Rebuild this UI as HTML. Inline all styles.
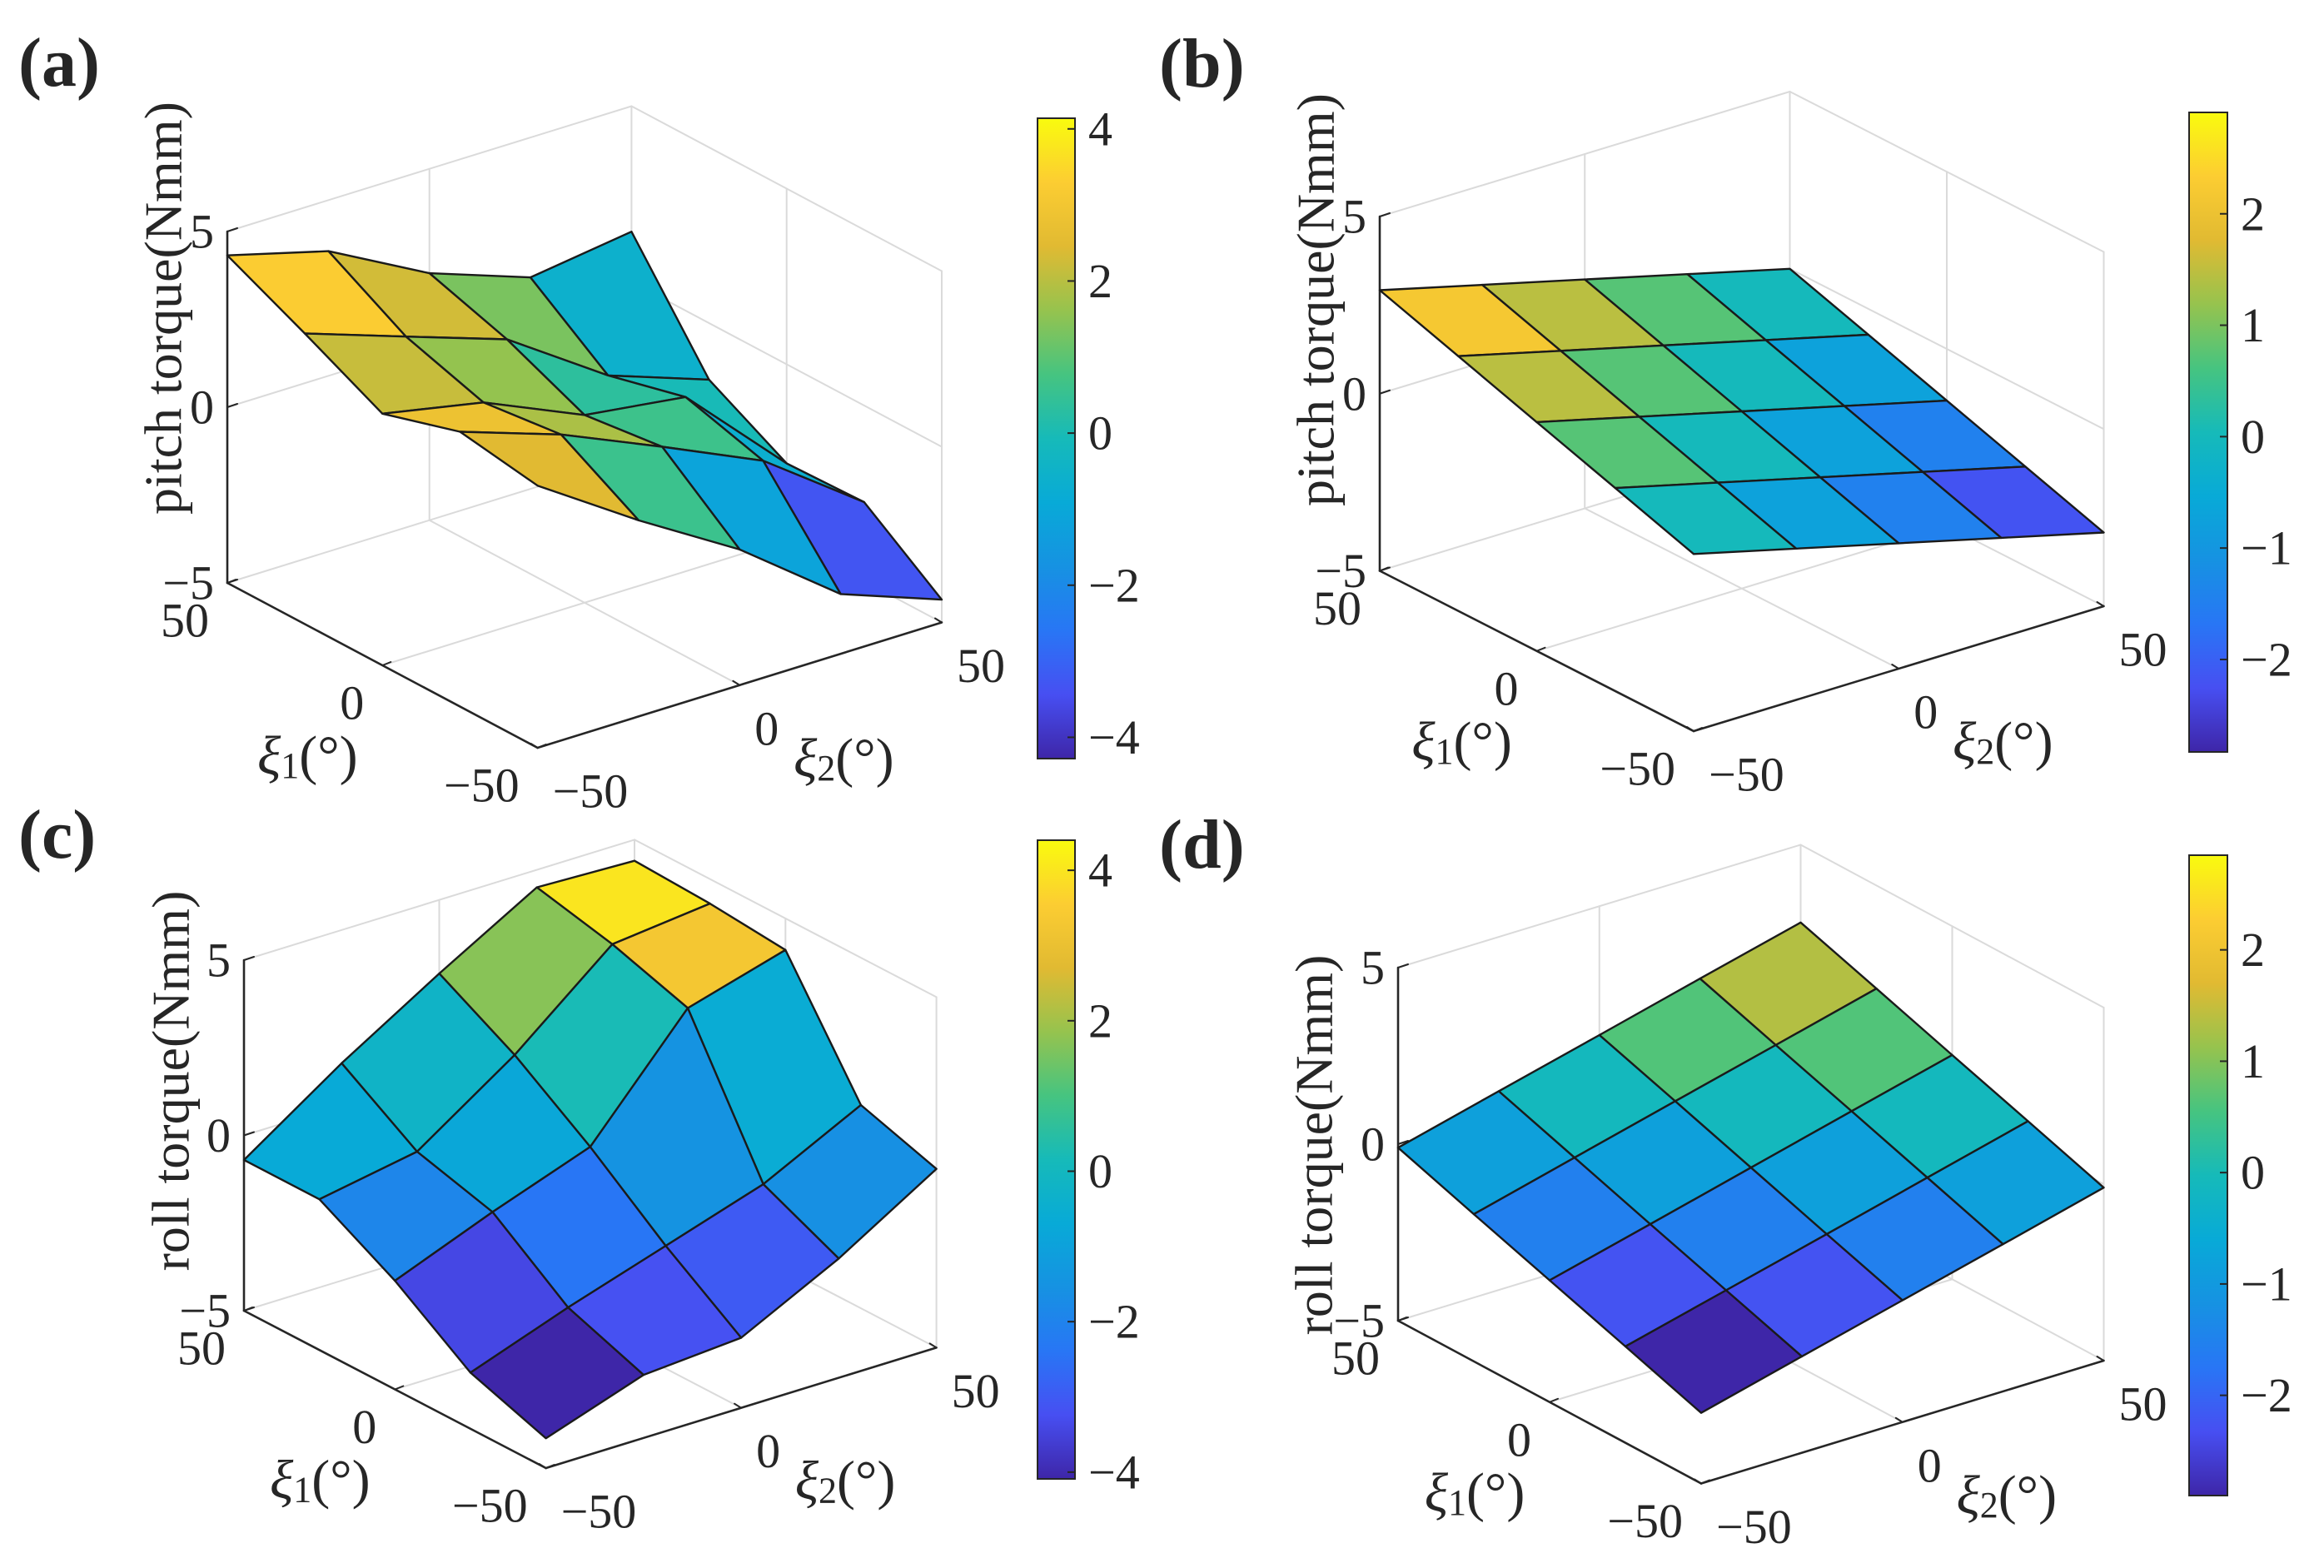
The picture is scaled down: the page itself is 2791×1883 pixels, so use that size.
<!DOCTYPE html>
<html>
<head>
<meta charset="utf-8">
<style>
  html, body { margin: 0; padding: 0; background: #ffffff; }
  svg { display: block; }
  text { font-family: "Liberation Serif", "DejaVu Serif", serif; fill: #262626; }
</style>
</head>
<body>
<svg id="fig" xmlns="http://www.w3.org/2000/svg" width="2791" height="1883" viewBox="0 0 2791 1883">
  <rect x="0" y="0" width="2791" height="1883" fill="#ffffff"/>
  <defs id="defs"></defs>
</svg>
<script>
// ---- data ----
const xi1Values = [-50, -25, 0, 25, 50];
const xi2Values = [-50, -25, 0, 25, 50];
const zTickLabels = [-5, 0, 5];
const xiTickLabels = [-50, 0, 50];
const cbTicksAC = [-4, -2, 0, 2, 4];
const cbTicksBD = [-2, -1, 0, 1, 2];
// rows: xi1 = -50..50 ; columns: xi2 = -50..50
const pitchTorqueA = [
  [2.46, 0.58, -1.14, -3.30, -4.35],
  [2.82, 1.85, 0.61, -0.68, -2.75],
  [2.16, 1.59, 0.34, -0.04, -2.82],
  [3.27, 2.29, 1.32, -0.60, -1.61],
  [4.32, 3.55, 2.03, 1.02, 1.43]
];
const pitchTorqueB = [
  [0.00, -0.73, -1.46, -2.19, -2.92],
  [0.73, 0.00, -0.73, -1.46, -2.19],
  [1.46, 0.73, 0.00, -0.73, -1.46],
  [2.19, 1.46, 0.73, 0.00, -0.73],
  [2.92, 2.19, 1.46, 0.73, 0.00]
];
const rollTorqueC = [
  [-4.15, -3.20, -3.00, -1.60, 0.10],
  [-3.40, -2.40, -1.50, -0.60, 0.80],
  [-1.90, -0.80, 0.20, 3.30, 4.10],
  [-0.70, -0.20, 1.70, 4.00, 4.30],
  [-0.70, 1.20, 2.90, 4.50, 4.40]
];
const rollTorqueD = [
  [-3.00, -2.27, -1.55, -0.83, -0.10],
  [-2.27, -1.55, -0.83, -0.10, 0.63],
  [-1.55, -0.83, -0.10, 0.63, 1.35],
  [-0.83, -0.10, 0.63, 1.35, 2.08],
  [-0.10, 0.63, 1.35, 2.08, 2.80]
];
const colorLimitsA = [-4.28, 4.14];
const colorLimitsB = [-2.83, 2.91];
const colorLimitsC = [-4.09, 4.40];
const colorLimitsD = [-2.90, 2.85];

// ---- layout (pixels) ----
const panels = [
  {id:'a', letter:'(a)', lx:22, ly:103, z:pitchTorqueA, clim:colorLimitsA, cbTicks:cbTicksAC,
   L:{x:273,y:700}, F:{x:645.6,y:898}, R:{x:1131,y:747.5}, zs:42.2,
   cb:{x:1246,w:45,top:142,bot:911}, zlabel:'pitch torque(Nmm)', zlx:196, zly:370},
  {id:'b', letter:'(b)', lx:1392, ly:104, z:pitchTorqueB, clim:colorLimitsB, cbTicks:cbTicksBD,
   L:{x:1657,y:685.5}, F:{x:2034,y:878}, R:{x:2526.5,y:728}, zs:42.55,
   cb:{x:2629,w:46,top:135,bot:903}, zlabel:'pitch torque(Nmm)', zlx:1580, zly:360},
  {id:'c', letter:'(c)', lx:22, ly:1030, z:rollTorqueC, clim:colorLimitsC, cbTicks:cbTicksAC,
   L:{x:293,y:1574}, F:{x:655.6,y:1763}, R:{x:1124.6,y:1618.4}, zs:42.1,
   cb:{x:1246,w:45,top:1009,bot:1776}, zlabel:'roll torque(Nmm)', zlx:205, zly:1298},
  {id:'d', letter:'(d)', lx:1392, ly:1042, z:rollTorqueD, clim:colorLimitsD, cbTicks:cbTicksBD,
   L:{x:1679,y:1586}, F:{x:2043,y:1781.5}, R:{x:2526.5,y:1634}, zs:42.4,
   cb:{x:2629,w:46,top:1027,bot:1796}, zlabel:'roll torque(Nmm)', zlx:1578, zly:1375}
];

const NS = 'http://www.w3.org/2000/svg';
const svg = document.getElementById('fig');
const defs = document.getElementById('defs');

const parulaStops = [
  [0.00, [62,38,168]], [0.10, [71,79,242]], [0.20, [40,118,245]],
  [0.30, [22,146,226]], [0.40, [8,170,215]], [0.50, [22,186,185]],
  [0.60, [70,196,128]], [0.70, [150,195,78]], [0.80, [225,186,50]],
  [0.90, [252,205,50]], [1.00, [249,251,14]]
];
function parula(t) {
  t = Math.max(0, Math.min(1, t));
  for (let k = 0; k < parulaStops.length - 1; k++) {
    const a = parulaStops[k], b = parulaStops[k+1];
    if (t <= b[0]) {
      const f = (t - a[0]) / (b[0] - a[0]);
      const c = a[1].map((v, q) => Math.round(v + f * (b[1][q] - v)));
      return 'rgb(' + c.join(',') + ')';
    }
  }
  return 'rgb(249,251,14)';
}

function mk(tag, attrs, parent) {
  const e = document.createElementNS(NS, tag);
  for (const k in attrs) e.setAttribute(k, attrs[k]);
  (parent || svg).appendChild(e);
  return e;
}

panels.forEach(P => {
  const g = mk('g', {});
  
  

  const proj = (u1, u2, z) => {
    const s = (u1 + 50) / 100, t = (u2 + 50) / 100;
    return {
      x: P.F.x + s * (P.L.x - P.F.x) + t * (P.R.x - P.F.x),
      y: P.F.y + s * (P.L.y - P.F.y) + t * (P.R.y - P.F.y) - (z + 5) * P.zs
    };
  };
  const line = (a, b, stroke, w, name) => {
    const e = mk('line', {x1:a.x, y1:a.y, x2:b.x, y2:b.y, stroke:stroke, 'stroke-width':w, 'stroke-linecap':'round'}, g);
    
    
  };
  const grey = '#dadada';
  line(proj(50,-50,5), proj(50,50,5), grey, 2, 'box-top-left-edge');
  line(proj(50,50,5), proj(-50,50,5), grey, 2, 'box-top-right-edge');
  line(proj(50,50,-5), proj(50,50,5), grey, 2, 'box-back-vertical');
  line(proj(-50,50,-5), proj(-50,50,5), grey, 2, 'box-right-vertical');
  line(proj(50,-50,-5), proj(50,50,-5), grey, 2, 'box-floor-left-edge');
  line(proj(50,50,-5), proj(-50,50,-5), grey, 2, 'box-floor-right-edge');
  line(proj(50,0,-5), proj(50,0,5), grey, 2, 'grid-wall-xi2-zero');
  line(proj(0,50,-5), proj(0,50,5), grey, 2, 'grid-wall-xi1-zero');
  line(proj(50,-50,0), proj(50,50,0), grey, 2, 'grid-wall-z-zero-left');
  line(proj(50,50,0), proj(-50,50,0), grey, 2, 'grid-wall-z-zero-right');
  line(proj(0,-50,-5), proj(0,50,-5), grey, 2, 'grid-floor-xi1-zero');
  line(proj(-50,0,-5), proj(50,0,-5), grey, 2, 'grid-floor-xi2-zero');
  const dark = '#262626';
  line(proj(50,-50,-5), proj(50,-50,5), dark, 2.6, 'z-axis-line');
  line(proj(50,-50,-5), proj(-50,-50,-5), dark, 2.6, 'xi1-axis-line');
  line(proj(-50,-50,-5), proj(-50,50,-5), dark, 2.6, 'xi2-axis-line');

  zTickLabels.forEach(v => {
    const p = proj(50,-50,v);
    line(p, {x:p.x+12, y:p.y-4}, dark, 2, 'z-tick-mark');
    const t = mk('text', {x:p.x-16, y:p.y, 'font-size':58, 'text-anchor':'end', 'dominant-baseline':'central'}, g);
    t.textContent = v < 0 ? '\u2212' + Math.abs(v) : String(v);
    
    
  });
  xiTickLabels.forEach(v => {
    const p = proj(v,-50,-5);
    line(p, {x:p.x+10, y:p.y-4}, dark, 2, 'xi1-tick-mark');
    const t = mk('text', {x:p.x-22, y:p.y+45, 'font-size':58, 'text-anchor':'end', 'dominant-baseline':'central'}, g);
    t.textContent = v < 0 ? '\u2212' + Math.abs(v) : String(v);
    
    
  });
  xiTickLabels.forEach(v => {
    const p = proj(-50,v,-5);
    line(p, {x:p.x-8, y:p.y-5}, dark, 2, 'xi2-tick-mark');
    const t = mk('text', {x:p.x+18, y:p.y+52, 'font-size':58, 'text-anchor':'start', 'dominant-baseline':'central'}, g);
    t.textContent = v < 0 ? '\u2212' + Math.abs(v) : String(v);
    
    
  });

  const m1 = proj(0,-50,-5), m2 = proj(-50,0,-5);
  const ax1 = mk('text', {x:m1.x-90, y:m1.y+108, 'font-size':66, 'text-anchor':'middle', 'dominant-baseline':'central'}, g);
  ax1.innerHTML = '<tspan font-style="italic">ξ</tspan><tspan font-size="44" dy="12">1</tspan><tspan dy="-12">(°)</tspan>';
  
  
  const ax2 = mk('text', {x:m2.x+125, y:m2.y+87, 'font-size':66, 'text-anchor':'middle', 'dominant-baseline':'central'}, g);
  ax2.innerHTML = '<tspan font-style="italic">ξ</tspan><tspan font-size="44" dy="12">2</tspan><tspan dy="-12">(°)</tspan>';
  
  
  const zl = mk('text', {x:P.zlx, y:P.zly, 'font-size':64, 'text-anchor':'middle', 'dominant-baseline':'central',
    transform:'rotate(-90 ' + P.zlx + ' ' + P.zly + ')'}, g);
  zl.textContent = P.zlabel;
  
  

  const letter = mk('text', {x:P.lx, y:P.ly, 'font-size':84, 'font-weight':'bold'}, g);
  letter.textContent = P.letter;
  
  

  const r1 = [P.L.x-P.F.x, P.R.x-P.F.x, 0];
  const r2 = [P.L.y-P.F.y, P.R.y-P.F.y, -10*P.zs];
  const d = [r1[1]*r2[2]-r1[2]*r2[1], r1[2]*r2[0]-r1[0]*r2[2], r1[0]*r2[1]-r1[1]*r2[0]];
  const sg = d[2] > 0 ? 1 : -1;
  const patches = [];
  for (let i = 0; i < xi1Values.length - 1; i++) {
    for (let j = 0; j < xi2Values.length - 1; j++) {
      const corners = [[i,j],[i+1,j],[i+1,j+1],[i,j+1]];
      let c = 0;
      corners.forEach(([a,b]) => {
        const s = (xi1Values[a]+50)/100, t = (xi2Values[b]+50)/100, zz = (P.z[a][b]+5)/10;
        c += sg*(d[0]*s + d[1]*t + d[2]*zz);
      });
      patches.push({i, j, corners, c});
    }
  }
  patches.sort((a, b) => a.c - b.c);
  const sg2 = mk('g', {}, g);
  
  
  patches.forEach(p => {
    const pts = p.corners.map(([a,b]) => {
      const q = proj(xi1Values[a], xi2Values[b], P.z[a][b]);
      return q.x.toFixed(1) + ',' + q.y.toFixed(1);
    }).join(' ');
    const col = parula((P.z[p.i][p.j] - P.clim[0]) / (P.clim[1] - P.clim[0]));
    const poly = mk('polygon', {points:pts, fill:col, stroke:'#1a1a1a', 'stroke-width':2.4, 'stroke-linejoin':'round'}, sg2);
    
    
  });

  const gid = 'grad-' + P.id;
  const lg = mk('linearGradient', {id:gid, x1:0, y1:1, x2:0, y2:0}, defs);
  parulaStops.forEach(s => mk('stop', {offset:s[0], 'stop-color':'rgb(' + s[1].join(',') + ')'}, lg));
  const cbg = mk('g', {}, g);
  
  
  const cr = mk('rect', {x:P.cb.x, y:P.cb.top, width:P.cb.w, height:P.cb.bot-P.cb.top, fill:'url(#' + gid + ')', stroke:'#262626', 'stroke-width':2}, cbg);
  
  
  const cy = v => P.cb.bot - (v - P.clim[0]) / (P.clim[1] - P.clim[0]) * (P.cb.bot - P.cb.top);
  P.cbTicks.forEach(v => {
    const y = cy(v);
    const tm = mk('line', {x1:P.cb.x+P.cb.w-9, y1:y, x2:P.cb.x+P.cb.w, y2:y, stroke:'#262626', 'stroke-width':2}, cbg);
    
    
    const t = mk('text', {x:P.cb.x+P.cb.w+16, y:y, 'font-size':58, 'dominant-baseline':'central'}, cbg);
    t.textContent = v < 0 ? '\u2212' + Math.abs(v) : String(v);
    
    
  });
});
</script>
</body>
</html>
